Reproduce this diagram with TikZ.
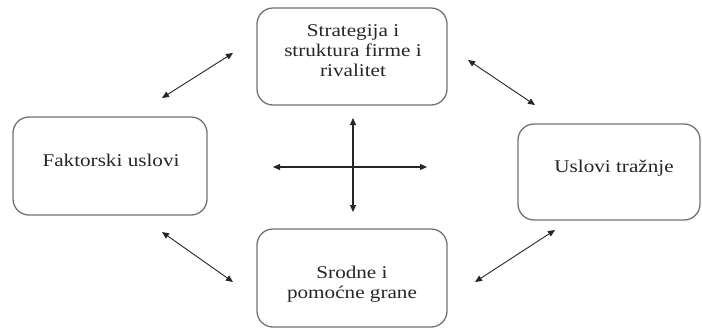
\documentclass[tikz,border=0pt]{standalone}
\usepackage{fontspec}
\setmainfont[FakeStretch=1.18]{Liberation Serif}
\usetikzlibrary{arrows.meta}
\begin{document}
\begin{tikzpicture}[x=1bp,y=-1bp,
  box/.style={draw=black!55, line width=1.3bp, rounded corners=16bp, inner sep=0pt, fill=white},
  lbl/.style={font=\fontsize{18}{20}\selectfont, align=center, inner sep=0pt, text=black!85},
  dbl/.style={{Triangle[length=7bp,width=6bp]}-{Triangle[length=7bp,width=6bp]}, line width=0.9bp, draw=black!85}]
\useasboundingbox[fill=white] (0,0) rectangle (702,331);
% boxes
\node[box, minimum width=190bp, minimum height=97bp] (top) at (352,56.5) {};
\node[box, minimum width=194bp, minimum height=98bp] (left) at (110,166) {};
\node[box, minimum width=182bp, minimum height=96bp] (right) at (609,172) {};
\node[box, minimum width=190bp, minimum height=98bp] (bottom) at (352,278) {};
% texts
\node[lbl] (toptext) at (353,51) {Strategija i\\struktura firme i\\rivalitet};
\node[lbl] (lefttext) at (111,160) {Faktorski uslovi};
\node[lbl] (righttext) at (614,168) {Uslovi tražnje};
\node[lbl] (bottomtext) at (352,284) {Srodne i\\pomoćne grane};
% arrow end points
\coordinate (tl1) at (162,98);  \coordinate (tl2) at (233,53);
\coordinate (tr1) at (468,60);  \coordinate (tr2) at (535,105);
\coordinate (bl1) at (162,232); \coordinate (bl2) at (233,282);
\coordinate (br1) at (475,282); \coordinate (br2) at (555,230);
\coordinate (vt) at (353,118);  \coordinate (vb) at (353,212);
\coordinate (hl) at (273,167);  \coordinate (hr) at (427,167);
% diagonal arrows
\draw[dbl] (tl1) -- (tl2);
\draw[dbl] (tr1) -- (tr2);
\draw[dbl] (bl1) -- (bl2);
\draw[dbl] (br1) -- (br2);
% cross
\draw[dbl, line width=1.1bp] (vt) -- (vb);
\draw[dbl, line width=1.1bp] (hl) -- (hr);
\end{tikzpicture}
\end{document}
